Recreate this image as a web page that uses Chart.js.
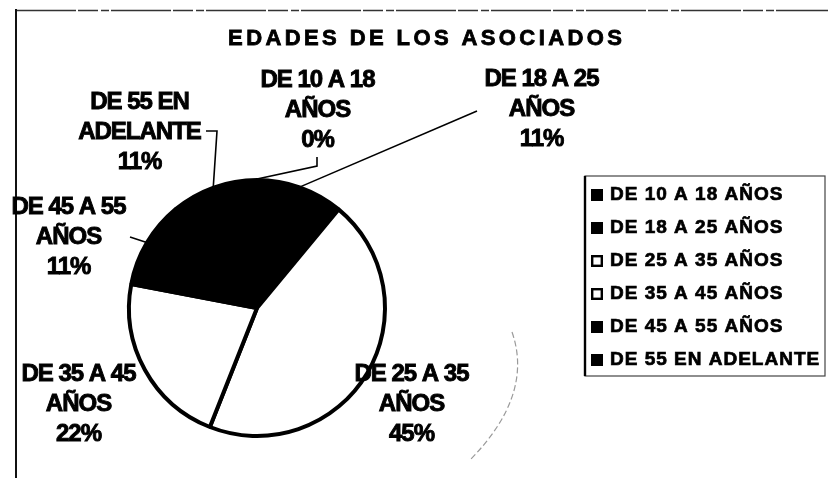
<!DOCTYPE html>
<html>
<head>
<meta charset="utf-8">
<title>Edades de los asociados</title>
<script src="https://cdn.jsdelivr.net/npm/chart.js@4/dist/chart.umd.min.js"></script>
<style>
  html, body { margin: 0; padding: 0; background: #fff; }
  #wrap { width: 828px; height: 478px; position: relative; }
</style>
</head>
<body>
<div id="wrap"><canvas id="pie" width="828" height="478"></canvas></div>
<script>
// data
var chartTitle = 'EDADES DE LOS ASOCIADOS';
var categories = ['DE 10 A 18 AÑOS', 'DE 18 A 25 AÑOS', 'DE 25 A 35 AÑOS',
                  'DE 35 A 45 AÑOS', 'DE 45 A 55 AÑOS', 'DE 55 EN ADELANTE'];
var values = [0, 11, 45, 22, 11, 11];
var sliceColors = ['#000', '#000', '#fff', '#fff', '#000', '#000'];

/* where Excel put each data label (centre of first line) and the bend points
   of its leader line; the last point of each leader is taken from the arc */
var labelLayout = [
  { x: 318, y: 80,  lead: [[317, 157], [317, 166]] },
  { x: 542, y: 79,  lead: [[477, 111]] },
  { x: 412, y: 374, lead: [] },
  { x: 79,  y: 374, lead: [] },
  { x: 69,  y: 207, lead: [[130, 237]] },
  { x: 140, y: 102, lead: [[206, 131], [217, 131]] }
];

var FONT = '"Liberation Sans", Arial, sans-serif';

function splitLabel(txt) {
  var i = txt.lastIndexOf(' ');
  return [txt.slice(0, i), txt.slice(i + 1)];
}

// the scan bleeds the ink, so every text gets a thin outline too
function inkText(ctx, txt, x, y, bleed) {
  ctx.fillText(txt, x, y);
  if (bleed) {
    ctx.lineWidth = bleed;
    ctx.strokeStyle = ctx.fillStyle;
    ctx.strokeText(txt, x, y);
  }
}

function spacedText(ctx, txt, x, y, spacing, bleed) {
  // draw text centred on x with extra letter spacing
  ctx.letterSpacing = spacing + 'px';
  var w = ctx.measureText(txt).width - spacing;
  ctx.textAlign = 'left';
  inkText(ctx, txt, x - w / 2, y, bleed);
  ctx.letterSpacing = '0px';
}

var decorPlugin = {
  id: 'decor',
  beforeDraw: function(chart) {
    var ctx = chart.ctx;
    ctx.save();
    // scanned page frame: top rule and left rule
    ctx.strokeStyle = '#333';
    ctx.lineWidth = 1.5;
    ctx.setLineDash([60, 2, 20, 3, 8, 2]);
    ctx.beginPath();
    ctx.moveTo(16, 10.5);
    ctx.lineTo(828, 10.5);
    ctx.stroke();
    ctx.setLineDash([]);
    ctx.strokeStyle = '#111';
    ctx.lineWidth = 2;
    ctx.beginPath();
    ctx.moveTo(16, 9);
    ctx.lineTo(16, 478);
    ctx.stroke();

    // title
    ctx.fillStyle = '#000';
    ctx.font = 'bold 22px ' + FONT;
    ctx.textBaseline = 'middle';
    spacedText(ctx, chartTitle, 425, 39, 3.4, 0.8);
    ctx.restore();
  },
  afterDatasetsDraw: function(chart) {
    var ctx = chart.ctx;
    var arcs = chart.getDatasetMeta(0).data;
    var ds = chart.data.datasets[0];
    var total = ds.data.reduce(function(a, b) { return a + b; }, 0);

    ctx.save();
    // leader lines
    ctx.strokeStyle = '#000';
    ctx.lineWidth = 1.6;
    arcs.forEach(function(arc, i) {
      var lay = labelLayout[i];
      if (!lay.lead.length) return;
      var p = arc.getProps(['x', 'y', 'startAngle', 'endAngle', 'outerRadius'], true);
      var mid = (p.startAngle + p.endAngle) / 2;
      var ex = p.x + Math.cos(mid) * (p.outerRadius + 1);
      var ey = p.y + Math.sin(mid) * (p.outerRadius + 1);
      ctx.beginPath();
      ctx.moveTo(lay.lead[0][0], lay.lead[0][1]);
      for (var k = 1; k < lay.lead.length; k++) ctx.lineTo(lay.lead[k][0], lay.lead[k][1]);
      ctx.lineTo(ex, ey);
      ctx.stroke();
    });

    // faint pencil curve next to the big slice
    ctx.strokeStyle = '#9a9a9a';
    ctx.lineWidth = 1.2;
    ctx.setLineDash([6, 3]);
    ctx.beginPath();
    ctx.moveTo(512, 332);
    ctx.quadraticCurveTo(534, 395, 470, 460);
    ctx.stroke();
    ctx.setLineDash([]);

    // data labels: category split on two lines + percentage
    ctx.fillStyle = '#000';
    ctx.font = 'bold 24px ' + FONT;
    ctx.textBaseline = 'middle';
    chart.data.labels.forEach(function(lbl, i) {
      var lay = labelLayout[i];
      var parts = splitLabel(lbl);
      var pct = Math.round(ds.data[i] / total * 100) + '%';
      spacedText(ctx, parts[0], lay.x, lay.y, -1, 0.9);
      spacedText(ctx, parts[1], lay.x, lay.y + 30, -1, 0.9);
      spacedText(ctx, pct, lay.x, lay.y + 60, -1, 0.9);
    });

    // legend box on the right
    var bx = 585, by = 176, bw = 240, bh = 200;
    ctx.strokeStyle = '#444';
    ctx.lineWidth = 1.2;
    ctx.strokeRect(bx, by, bw, bh);
    ctx.strokeStyle = '#000';
    ctx.lineWidth = 2.4;
    ctx.beginPath();
    ctx.moveTo(bx, by);
    ctx.lineTo(bx, by + bh);
    ctx.stroke();

    ctx.font = 'bold 19px ' + FONT;
    ctx.textAlign = 'left';
    chart.data.labels.forEach(function(lbl, i) {
      var cy = 195 + i * 33;
      var col = ds.backgroundColor[i];
      if (col === '#000') {
        ctx.fillStyle = '#000';
        ctx.fillRect(591, cy - 6, 12, 12);
      } else {
        ctx.fillStyle = '#fff';
        ctx.fillRect(591, cy - 6, 12, 12);
        ctx.strokeStyle = '#000';
        ctx.lineWidth = 2.4;
        ctx.strokeRect(592.2, cy - 4.8, 9.6, 9.6);
      }
      ctx.fillStyle = '#000';
      ctx.letterSpacing = '1px';
      inkText(ctx, lbl, 610, cy, 0.7);
      ctx.letterSpacing = '0px';
    });
    ctx.restore();
  }
};

var pieChart = new Chart(document.getElementById('pie'), {
  type: 'pie',
  data: {
    labels: categories,
    datasets: [{
      data: values,
      backgroundColor: sliceColors,
      borderColor: '#000',
      borderWidth: 4
    }]
  },
  options: {
    responsive: false,
    animation: false,
    events: [],
    layout: { padding: { left: 127, right: 441, top: 178, bottom: 40 } },
    plugins: {
      legend: { display: false },
      title: { display: false },
      tooltip: { enabled: false }
    }
  },
  plugins: [decorPlugin]
});
</script>
</body>
</html>
